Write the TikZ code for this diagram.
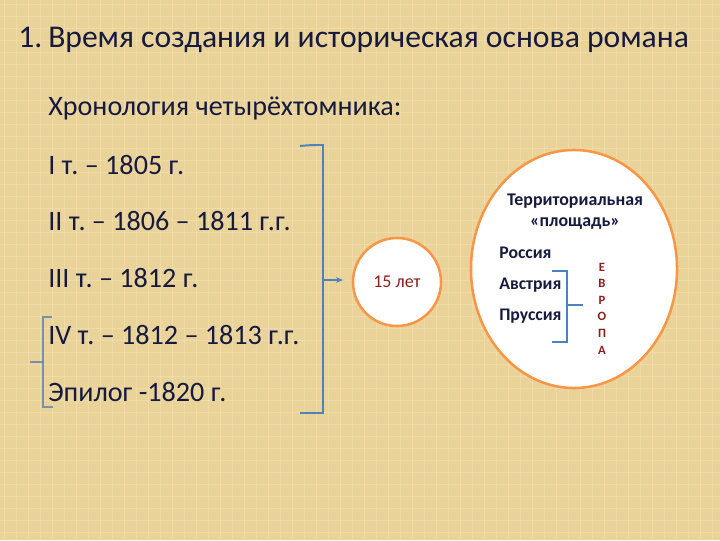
\documentclass[tikz,border=0pt]{standalone}
\usepackage{fontspec}
\setmainfont{Carlito}
\frenchspacing
\usetikzlibrary{positioning}
\usetikzlibrary{arrows.meta,shapes.geometric}
\definecolor{parch}{RGB}{234,211,153}
\definecolor{parchline}{RGB}{244,228,182}
\definecolor{inkblue}{RGB}{22,26,62}
\definecolor{bracketblue}{RGB}{79,129,189}
\definecolor{ringorange}{RGB}{247,150,70}
\definecolor{darkred}{RGB}{140,30,30}

\begin{document}
\begin{tikzpicture}[x=0.025cm,y=-0.025cm,
  volume/.style={anchor=west,inner sep=0pt,text=inkblue,font=\fontsize{20}{22}\selectfont},
  heading/.style={anchor=base west,inner sep=0pt,text=inkblue,font=\fontsize{22.5}{25}\selectfont},
  country/.style={anchor=west,inner sep=0pt,text=inkblue,font=\fontsize{12.6}{14}\selectfont\bfseries},
  brace/.style={draw=bracketblue,line width=1.4pt},
  ring/.style={draw=ringorange,line width=1.8pt,fill=white}]

 % background
 \fill[parch] (0,0) rectangle (720,540);
 \useasboundingbox (0,0) rectangle (720,540);
 \foreach \i in {0,...,59} {
   \draw[parchline,line width=0.6pt,opacity=0.5] (\i*12+4,0) -- (\i*12+4,540);
 }
 \foreach \i in {0,...,44} {
   \draw[parchline,line width=0.6pt,opacity=0.5] (0,\i*12+4) -- (720,\i*12+4);
 }

 % title
 \node (num) [heading] at (18,47) {1.};
 \node (title) [heading] at (48,47) {Время создания и историческая основа романа};
 \node (chrono) [volume] at (48,108) {Хронология четырёхтомника:};

 % volumes
 \foreach \i/\name in {1/{I т. – 1805 г.}, 2/{II т. – 1806 – 1811 г.г.}, 3/{III т. – 1812 г.},
                       4/{IV т. – 1812 – 1813 г.г.}, 5/{Эпилог -1820 г.}} {
   \node (vol\i) [volume] at (48,108+\i*56.7) {\name};
 }

 % brackets
 \draw[brace] (300,146) to[out=5,in=180] (317,145) -- (323,145) -- (323,413) -- (300,413);
 \draw[draw=bracketblue!70!gray,line width=1.2pt,opacity=0.8] (52,317) -- (43,317) -- (43,407) -- (53,407);
 \draw[draw=bracketblue!70!gray,line width=1.2pt,opacity=0.8] (43,362) -- (30,362);

 % years circle
 \node (years) [circle,ring,minimum size=2.2cm,text=darkred,font=\fontsize{12.8}{14}\selectfont] at (397,282) {15 лет};
 \coordinate (mid) at (323,280);
 \draw[brace,-{Stealth[length=5pt,width=4pt]}] (mid) -- (343,280);

 % territory ellipse
 \node (area) [ellipse,ring,minimum width=5.15cm,minimum height=5.95cm] at (574,269) {};
 \node (terr) [inner sep=0pt,text=inkblue,font=\fontsize{12.7}{15}\selectfont\bfseries,align=center] at (575,212)
   {Территориальная\\«площадь»};
 \node (russia) [country] at (499,253) {Россия};
 \node (austria) [country] at (499,285) {Австрия};
 \node (prussia) [country] at (499,316) {Пруссия};

 \draw[draw=bracketblue,line width=0.8pt] (552,271) -- (567,271) -- (567,342) -- (552,342);
 \draw[draw=bracketblue,line width=0.8pt] (567,305) -- (583,305);

 \foreach \i/\name in {0/Е,1/В,2/Р,3/О,4/П,5/А} {
   \node (eu\i) [inner sep=0pt,text=darkred,font=\fontsize{9}{10}\selectfont\bfseries] at (602,267+\i*16.6) {\name};
 }

\end{tikzpicture}
\end{document}
